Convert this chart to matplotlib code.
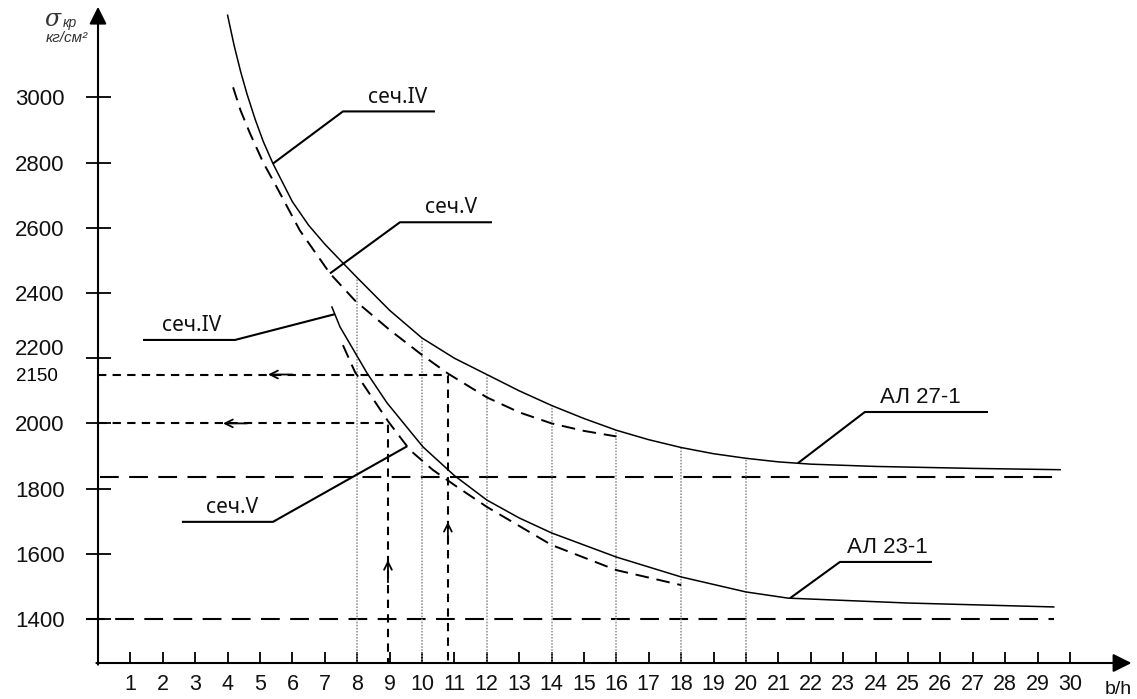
import matplotlib
matplotlib.use("Agg")
import matplotlib.pyplot as plt
import matplotlib.transforms as mtransforms
import numpy as np

# --- data (b/h vs critical stress, kg/cm^2) ---
al27_iv_x = [4.0, 4.2, 4.4, 4.6, 4.85, 5.1, 5.4, 6.0, 6.5, 7.0, 7.56, 8.0, 9.0, 10.0, 11.0, 12.0, 13.0,
             14.0, 15.0, 16.0, 17.0, 18.0, 19.0, 20.0, 21.0, 22.0, 24.0, 27.0, 29.7]
al27_iv_y = [3252, 3160, 3080, 3010, 2933, 2865, 2797, 2680, 2608, 2550, 2492, 2447, 2347, 2262, 2200, 2150, 2100,
             2055, 2015, 1979, 1950, 1926, 1907, 1893, 1882, 1875, 1868, 1862, 1858]

al27_v_x = [4.17, 4.4, 4.69, 5.1, 5.52, 6.23, 7.16, 7.93, 9.0, 10.0, 10.8, 12.0, 13.0, 14.0, 15.0, 16.0]
al27_v_y = [3031, 2960, 2890, 2800, 2724, 2592, 2460, 2377, 2287, 2210, 2153, 2080, 2034, 2000, 1977, 1960]

al23_iv_x = [7.22, 7.47, 8.3, 8.92, 10.03, 11.0, 12.0, 13.0, 14.0, 16.0, 18.0, 20.0, 21.3, 25.0, 29.5]
al23_iv_y = [2357, 2296, 2155, 2063, 1928, 1840, 1765, 1710, 1664, 1590, 1529, 1483, 1464, 1449, 1437]

al23_v_x = [7.56, 7.93, 8.95, 9.63, 10.34, 11.0, 12.0, 14.0, 16.0, 18.0]
al23_v_y = [2240, 2158, 2007, 1918, 1857, 1811, 1744, 1627, 1550, 1504]

allow_27 = 1835      # allowable stress АЛ 27-1
allow_23 = 1400      # allowable stress АЛ 23-1
read_hi = 2150       # read-off levels
read_lo = 2000
bh_hi = 10.8         # b/h giving 2150
bh_lo = 8.95         # b/h giving 2000
grid_x = [8, 10, 12, 14, 16, 18, 20]

x_ticks = list(range(1, 31))
y_ticks = [1400, 1600, 1800, 2000, 2200, 2400, 2600, 2800, 3000]

X0, Y0 = 0, 1265     # axis origin

plt.rcParams['font.family'] = ['Liberation Sans', 'DejaVu Sans']

fig = plt.figure(figsize=(11.37, 6.99), dpi=100)
ax = fig.add_axes([0, 0, 1, 1])
ax.set_xlim(-3.025, 32.07)
ax.set_ylim(1154.6, 3298.8)

# axes drawn as arrows, ticks kept on hidden spines
for s in ['top', 'right']:
    ax.spines[s].set_visible(False)
ax.spines['left'].set_position(('data', X0))
ax.spines['bottom'].set_position(('data', Y0))
ax.spines['left'].set_visible(False)
ax.spines['bottom'].set_visible(False)
ax.annotate('', xy=(31.9, Y0), xytext=(X0 - 0.05, Y0),
            arrowprops=dict(arrowstyle='-|>', lw=1.5, color='black', mutation_scale=28,
                            shrinkA=0, shrinkB=0))
ax.annotate('', xy=(X0, 3278), xytext=(X0, Y0 - 5),
            arrowprops=dict(arrowstyle='-|>', lw=1.5, color='black', mutation_scale=26,
                            shrinkA=0, shrinkB=0))

ax.set_xticks(x_ticks)
ax.set_xticklabels([str(v) for v in x_ticks])
ax.set_yticks(y_ticks)
ax.set_yticklabels([str(v) for v in y_ticks])
ax.set_yticks([read_hi], [str(read_hi)], minor=True)
ax.tick_params(axis='x', direction='in', length=8, width=1.3, pad=8, labelsize=15.5,
               labelcolor='#111111')
ax.tick_params(axis='y', direction='inout', length=18, width=1.3, pad=15, labelsize=16,
               labelcolor='#111111')
ax.tick_params(axis='y', which='minor', length=0, pad=29, labelsize=13.5)
for lab in ax.get_yticklabels():
    if lab.get_text() == '2200':
        lab.set_transform(lab.get_transform() +
                          mtransforms.ScaledTranslation(0, 0.11, fig.dpi_scale_trans))

# allowable stress lines
ax.plot([X0 + 0.05, 29.7], [allow_27, allow_27], color='black', lw=1.5, dashes=(9, 5))
ax.plot([-0.37, 29.5], [allow_23, allow_23], color='black', lw=1.5, dashes=(9, 5))

# vertical dotted guides up to the upper curve
for gx in grid_x:
    top = np.interp(gx, al27_iv_x, al27_iv_y)
    ax.plot([gx, gx], [Y0, top], color='#8a8a8a', lw=1.1, dashes=(1, 1))

# curves
ax.plot(al27_iv_x, al27_iv_y, color='black', lw=1.1)
ax.plot(al27_v_x, al27_v_y, color='black', lw=1.4, dashes=(7, 4))
ax.plot(al23_iv_x, al23_iv_y, color='black', lw=1.1)
ax.plot(al23_v_x, al23_v_y, color='black', lw=1.4, dashes=(7, 4))

# read-off construction lines
ax.plot([X0, bh_hi, bh_hi], [read_hi, read_hi, Y0], color='black', lw=1.5, dashes=(4, 3))
ax.plot([X0, bh_lo, bh_lo], [read_lo, read_lo, Y0], color='black', lw=1.5, dashes=(4, 3))
arw = dict(arrowstyle='->', lw=1.3, color='black', mutation_scale=14, shrinkA=0, shrinkB=0)
ax.annotate('', xy=(5.25, read_hi), xytext=(6.0, read_hi), arrowprops=arw)
ax.annotate('', xy=(3.86, read_lo), xytext=(4.6, read_lo), arrowprops=arw)
ax.annotate('', xy=(bh_hi, 1698), xytext=(bh_hi, 1630), arrowprops=arw)
ax.annotate('', xy=(bh_lo, 1581), xytext=(bh_lo, 1513), arrowprops=arw)

# leader labels: (text, curve x, curve series, underline x0, x1, underline y, text x, family)
leaders = [
    ('сеч.IV', 5.40, (al27_iv_x, al27_iv_y), 7.56, 10.4, 2957, 9.24, 'Noto Sans'),
    ('сеч.V', 7.16, (al27_v_x, al27_v_y), 9.32, 12.16, 2617, 10.9, 'Noto Sans'),
    ('сеч.IV', 7.31, (al23_iv_x, al23_iv_y), 4.23, 1.39, 2256, 2.9, 'Noto Sans'),
    ('сеч.V', 9.54, (al23_v_x, al23_v_y), 5.40, 2.59, 1698, 4.13, 'Noto Sans'),
    ('АЛ 27-1', 21.6, (al27_iv_x, al27_iv_y), 23.67, 27.47, 2035, 25.37, 'Liberation Sans'),
    ('АЛ 23-1', 21.36, (al23_iv_x, al23_iv_y), 22.9, 25.74, 1575, 24.38, 'Liberation Sans'),
]
for text, cx, (sx, sy), u0, u1, uy, tx, fam in leaders:
    cy = np.interp(cx, sx, sy)
    ax.plot([cx, u0, u1], [cy, uy, uy], color='black', lw=1.5, solid_capstyle='butt')
    ax.text(tx, uy + 12, text, ha='center', va='bottom',
            fontsize=15 if fam == 'Noto Sans' else 16, family=fam, color='#111111')

# axis titles
ax.text(-1.65, 3238, 'σ', ha='left', va='center', fontsize=17, style='italic',
        family='DejaVu Serif', color='#333333')
ax.text(-1.08, 3228, 'кр', ha='left', va='center', fontsize=10, style='italic',
        family='Liberation Sans', color='#333333')
ax.text(-0.30, 3183, 'кг/см²', ha='right', va='center', fontsize=11, style='italic',
        family='Liberation Sans', color='#333333')
ax.text(31.5, 1183, 'b/h', ha='center', va='center', fontsize=14, color='#111111')

fig.savefig('out.png', dpi=100)
